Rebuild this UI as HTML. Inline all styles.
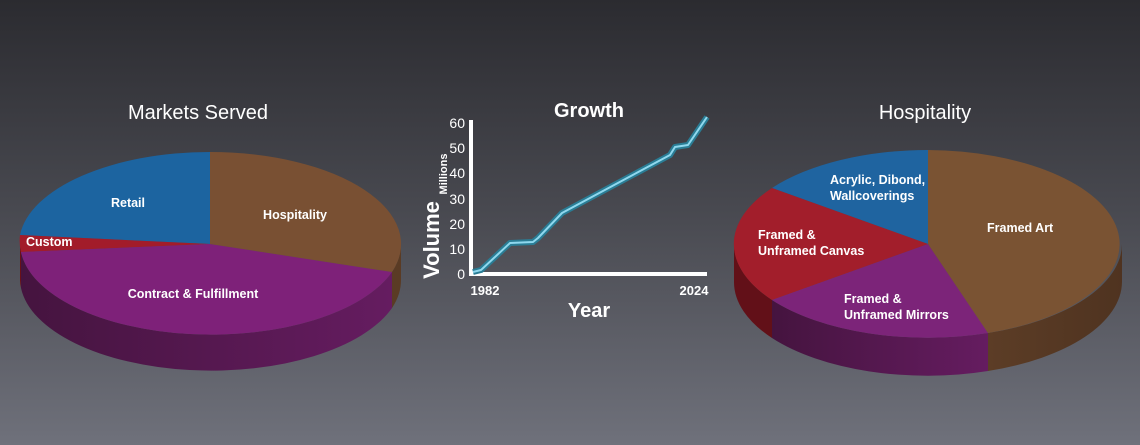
<!DOCTYPE html>
<html><head><meta charset="utf-8"><style>
html,body{margin:0;padding:0}
body{width:1140px;height:445px;overflow:hidden;background:linear-gradient(#2b2b30 0%,#4a4b52 50%,#6f717b 100%);font-family:"Liberation Sans",sans-serif}
svg{display:block}
</style></head><body>
<svg width="1140" height="445" viewBox="0 0 1140 445" font-family="Liberation Sans, sans-serif">
<defs>
<linearGradient id="sp" x1="0" x2="1" y1="0" y2="0"><stop offset="0" stop-color="#45143f"/><stop offset="1" stop-color="#651c60"/></linearGradient>
<linearGradient id="sb" x1="0" x2="1" y1="0" y2="0"><stop offset="0" stop-color="#5c3d26"/><stop offset="1" stop-color="#4f3320"/></linearGradient>
</defs>
<!-- Left pie -->
<text x="198" y="119" fill="#fff" font-size="20" text-anchor="middle">Markets Served</text>
<path d="M20,244 A191,92 0 0,0 21,252 L21,288 A191,92 0 0,1 20,280 Z" fill="#6a1018"/>
<path d="M21,252 A191,92 0 0,0 392,272 L392,308 A191,92 0 0,1 21,288 Z" fill="url(#sp)"/>
<path d="M392,272 A191,92 0 0,0 401,244 L401,280 A191,92 0 0,1 392,308 Z" fill="#5a3b24"/>
<path d="M210,244 L210,152 A191,92 0 0,0 20,235 Z" fill="#1c64a0"/>
<path d="M210,244 L20,235 A191,92 0 0,0 21,252 Z" fill="#a21c2a"/>
<path d="M210,244 L21,252 A191,92 0 0,0 392,272 Z" fill="#7e2179"/>
<path d="M210,244 L392,272 A191,92 0 0,0 210,152 Z" fill="#795033"/>
<g fill="#fff" font-size="12.5" font-weight="bold">
<text x="128" y="207" text-anchor="middle">Retail</text>
<text x="295" y="219" text-anchor="middle">Hospitality</text>
<text x="26" y="246">Custom</text>
<text x="193" y="298" text-anchor="middle">Contract &amp; Fulfillment</text>
</g>
<!-- Growth chart -->
<text x="589" y="117" fill="#fff" font-size="20" font-weight="bold" text-anchor="middle">Growth</text>
<path d="M471,120 L471,274 L707,274" fill="none" stroke="#fff" stroke-width="4"/>
<g fill="#fff" font-size="14" text-anchor="end">
<text x="465" y="128">60</text><text x="465" y="153">50</text><text x="465" y="178">40</text>
<text x="465" y="204">30</text><text x="465" y="229">20</text><text x="465" y="254">10</text><text x="465" y="279">0</text>
</g>
<text transform="translate(439,240) rotate(-90)" fill="#fff" font-size="22" font-weight="bold" text-anchor="middle">Volume</text>
<text transform="translate(447,174) rotate(-90)" fill="#fff" font-size="11" font-weight="bold" text-anchor="middle">Millions</text>
<text x="485" y="295" fill="#fff" font-size="13" font-weight="bold" text-anchor="middle">1982</text>
<text x="694" y="295" fill="#fff" font-size="13" font-weight="bold" text-anchor="middle">2024</text>
<text x="589" y="317" fill="#fff" font-size="20" font-weight="bold" text-anchor="middle">Year</text>
<path d="M473,272 L481,270 L510,243 L533,242 L538,238 L562,213 L670,155 L675,147 L688,145 L707,117" fill="none" stroke="#2a7d95" stroke-width="6" stroke-linejoin="round"/>
<path d="M473,272 L481,270 L510,243 L533,242 L538,238 L562,213 L670,155 L675,147 L688,145 L707,117" fill="none" stroke="#8fd8ee" stroke-width="2" stroke-linejoin="round"/>
<!-- Right pie -->
<text x="925" y="119" fill="#fff" font-size="20" text-anchor="middle">Hospitality</text>
<path d="M734,244 A194,94 0 0,0 772,300 L772,338 A194,94 0 0,1 734,282 Z" fill="#621018"/>
<path d="M772,300 A194,94 0 0,0 988,333 L988,371 A194,94 0 0,1 772,338 Z" fill="url(#sp)"/>
<path d="M988,333 A194,94 0 0,0 1122,244 L1122,282 A194,94 0 0,1 988,371 Z" fill="url(#sb)"/>
<path d="M928,244 L928,150 A194,94 0 0,0 772,188 Z" fill="#1f64a0"/>
<path d="M928,244 L772,188 A194,94 0 0,0 772,300 Z" fill="#a21e2b"/>
<path d="M928,244 L772,300 A194,94 0 0,0 988,333 Z" fill="#7c2479"/>
<path d="M928,244 L988,333 A194,94 0 0,0 928,150 Z" fill="#7a5333"/>
<g fill="#fff" font-size="12.5" font-weight="bold">
<text x="830" y="184">Acrylic, Dibond,</text>
<text x="830" y="200">Wallcoverings</text>
<text x="758" y="239">Framed &amp;</text>
<text x="758" y="255">Unframed Canvas</text>
<text x="844" y="303">Framed &amp;</text>
<text x="844" y="319">Unframed Mirrors</text>
<text x="987" y="232">Framed Art</text>
</g>
</svg>
</body></html>
